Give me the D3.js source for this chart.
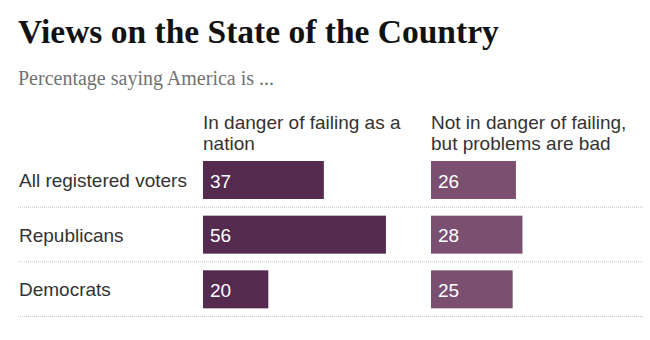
<!DOCTYPE html>
<html>
<head>
<meta charset="utf-8">
<script src="https://cdn.jsdelivr.net/npm/d3@7"></script>
<style>
  body { margin: 0; background: #fff; }
</style>
</head>
<body>
<div id="chart"></div>
<script>
// Views on the state of the country - two bar columns

var svgWidth = 650;
var svgHeight = 340;

var groups = ["All registered voters", "Republicans", "Democrats"];
var dangerValues = [37, 56, 20];
var problemsValues = [26, 28, 25];
var columnHeaders = [
  ["In danger of failing as a", "nation"],
  ["Not in danger of failing,", "but problems are bad"]
];
var columnColors = ["#552a4f", "#7b4f70"];

var sansFont = "'Liberation Sans', Arial, sans-serif";

var svg = d3.select("#chart")
  .append("svg")
  .attr("width", svgWidth)
  .attr("height", svgHeight);

// title + subtitle
svg.append("text")
  .attr("x", 18)
  .attr("y", 43)
  .style("font-family", "'Liberation Serif', serif")
  .style("font-weight", "bold")
  .style("font-size", "33.5px")
  .style("fill", "#121212")
  .text("Views on the State of the Country");

svg.append("text")
  .attr("x", 18)
  .attr("y", 85)
  .style("font-family", "'Liberation Serif', serif")
  .style("font-size", "20px")
  .style("fill", "#727272")
  .text("Percentage saying America is ...");

// scales
var y = d3.scaleBand()
  .domain(groups)
  .range([153, 317]);

var x = d3.scaleLinear()
  .domain([0, 60])
  .range([0, 196]);

var columnX = [203, 431];
var series = [dangerValues, problemsValues];

// dotted separators
svg.selectAll(".sep")
  .data(groups)
  .enter()
  .append("line")
  .attr("class", "sep")
  .attr("x1", 18)
  .attr("x2", 643)
  .attr("y1", d => y(d) + y.step() - 0.5)
  .attr("y2", d => y(d) + y.step() - 0.5)
  .attr("stroke", "#c8c8c8")
  .attr("stroke-width", 1)
  .attr("stroke-dasharray", "1,1");

// row labels
svg.selectAll(".rowLabel")
  .data(groups)
  .enter()
  .append("text")
  .attr("class", "rowLabel")
  .attr("x", 19)
  .attr("y", d => y(d) + 34)
  .style("font-family", sansFont)
  .style("font-size", "19px")
  .style("fill", "#333")
  .text(d => d);

series.forEach(function(values, i) {
  var g = svg.append("g")
    .attr("transform", `translate(${columnX[i]}, 0)`);

  // header (two lines)
  g.append("text")
    .attr("y", 128.5)
    .style("font-family", sansFont)
    .style("font-size", "19px")
    .style("fill", "#333")
    .selectAll("tspan")
    .data(columnHeaders[i])
    .enter()
    .append("tspan")
    .attr("x", 0)
    .attr("dy", (d, j) => j === 0 ? 0 : 21.5)
    .text(d => d);

  g.selectAll("rect")
    .data(values)
    .enter()
    .append("rect")
    .attr("x", 0)
    .attr("y", (d, j) => y(groups[j]) + 8)
    .attr("width", d => x(d))
    .attr("height", 38)
    .attr("fill", columnColors[i]);

  g.selectAll(".val")
    .data(values)
    .enter()
    .append("text")
    .attr("class", "val")
    .attr("x", 7)
    .attr("y", (d, j) => y(groups[j]) + 34.5)
    .style("font-family", sansFont)
    .style("font-size", "19px")
    .style("fill", "#fff")
    .text(d => d);
});
</script>
</body>
</html>
